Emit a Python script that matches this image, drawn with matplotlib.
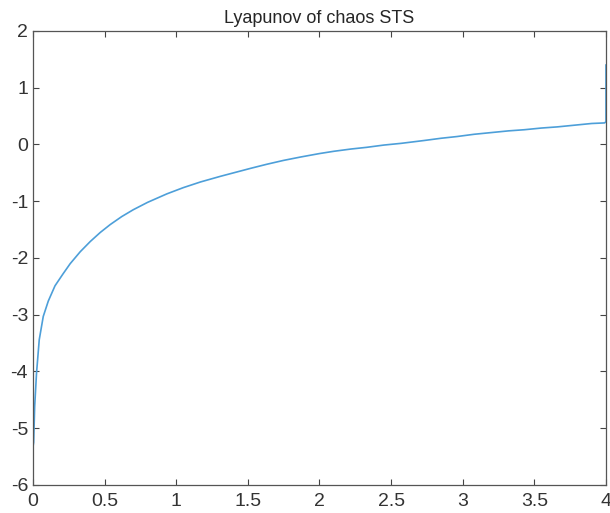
import matplotlib
matplotlib.use("Agg")
import matplotlib.pyplot as plt

# values
x_vals = [0.002, 0.005, 0.012, 0.025, 0.044, 0.072, 0.107, 0.154, 0.21, 0.26,
          0.33, 0.40, 0.47, 0.54, 0.62, 0.70, 0.80, 0.935, 1.05, 1.17, 1.31,
          1.40, 1.52, 1.63, 1.75, 1.87, 2.0, 2.10, 2.22, 2.33, 2.45, 2.57,
          2.73, 2.85, 2.96, 3.08, 3.20, 3.32, 3.43, 3.55, 3.66, 3.78, 3.90,
          3.99, 4.0, 4.0]
y_vals = [-5.30, -5.25, -4.62, -4.03, -3.44, -3.03, -2.76, -2.49, -2.28, -2.10,
          -1.89, -1.71, -1.55, -1.41, -1.27, -1.15, -1.02, -0.87, -0.76, -0.66,
          -0.56, -0.50, -0.42, -0.35, -0.28, -0.22, -0.16, -0.12, -0.08, -0.05,
          -0.01, 0.02, 0.07, 0.11, 0.14, 0.18, 0.21, 0.24, 0.26, 0.29, 0.31,
          0.34, 0.37, 0.38, 0.40, 1.40]
x_ticks = [0, 0.5, 1, 1.5, 2, 2.5, 3, 3.5, 4]
x_labels = ["0", "0.5", "1", "1.5", "2", "2.5", "3", "3.5", "4"]
y_ticks = [-6, -5, -4, -3, -2, -1, 0, 1, 2]

plt.rcParams['font.family'] = ['Liberation Sans', 'DejaVu Sans']
plt.rcParams['axes.unicode_minus'] = False

fig = plt.figure(figsize=(6.1, 5.13), dpi=100)
ax = fig.add_axes([0.054, 0.0546, 0.9394, 0.885])
ax.plot(x_vals, y_vals, color='#4d9fd9', lw=1.2)

ax.set_xlim(0, 4)
ax.set_ylim(-6, 2)
ax.set_xticks(x_ticks)
ax.set_xticklabels(x_labels)
ax.set_yticks(y_ticks)
ax.tick_params(direction='in', top=True, right=True, labelsize=14,
               length=4, width=0.8, color='#444444', labelcolor='#333333')
ax.tick_params(axis='x', pad=6)
for s in ax.spines.values():
    s.set_color('#555555')
    s.set_linewidth(0.9)
ax.set_title("Lyapunov of chaos STS", fontsize=13, color='#262626', pad=6)

fig.savefig("out.png", dpi=100)
